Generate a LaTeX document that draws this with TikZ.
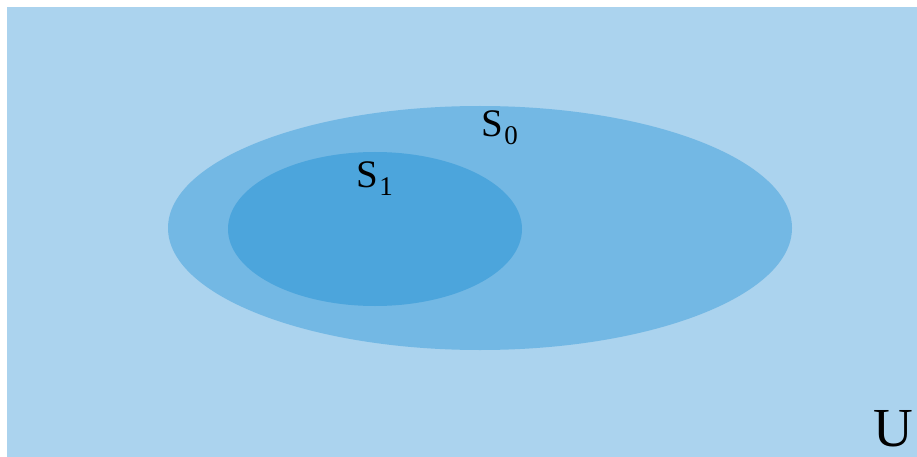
\documentclass[tikz,border=0pt]{standalone}
\usepackage{fontspec}
\setmainfont{Liberation Serif}
\newcommand\mysub[1]{\kern1.5pt\raisebox{-8pt}{\fontsize{27}{27}\selectfont #1}}
\begin{document}
\begin{tikzpicture}[x=1pt,y=-1pt,
  lbl/.style={inner sep=0pt,anchor=base west,font=\fontsize{39}{41}\selectfont},
  bigl/.style={inner sep=0pt,anchor=base east,font=\fontsize{55}{57}\selectfont}]
\definecolor{bgU}{RGB}{171,211,238}
\definecolor{sZero}{RGB}{115,184,228}
\definecolor{sOne}{RGB}{76,165,220}
\useasboundingbox (0,0) rectangle (917,457);
\fill[white] (0,0) rectangle (917,457);
\fill[bgU] (7,7) rectangle (917,457);
\fill[sZero] (480,228) ellipse [x radius=312, y radius=122];
\fill[sOne] (375,229) ellipse [x radius=147, y radius=77];
\node[lbl] (s0) at (481,137) {S\mysub{0}};
\node[lbl] (s1) at (356,187) {S\mysub{1}};
\node[bigl] (u) at (913,446) {U};
\end{tikzpicture}
\end{document}
